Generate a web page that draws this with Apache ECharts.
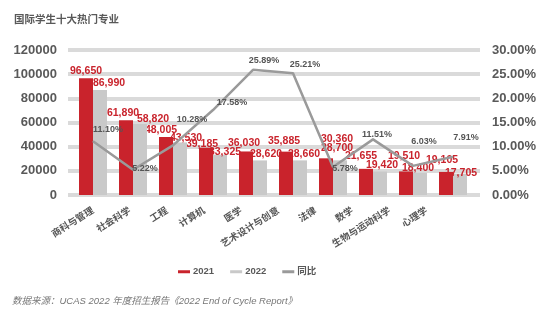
<!DOCTYPE html>
<html>
<head>
<meta charset="utf-8">
<script src="https://cdn.jsdelivr.net/npm/echarts@6/dist/echarts.min.js"></script>
<style>
  html, body { margin: 0; padding: 0; background: #fff; }
  #chart { width: 560px; height: 321px; }
</style>
</head>
<body>
<div id="chart"></div>
<script>
// Top ten majors chosen by international applicants, 2021 vs 2022, with year-on-year change
const categories = ['商科与管理', '社会科学', '工程', '计算机', '医学', '艺术设计与创意', '法律', '数学', '生物与运动科学', '心理学'];
const values2021 = [96650, 61890, 48005, 39185, 36030, 35885, 30360, 21655, 19510, 19105];
const values2022 = [86990, 58820, 43530, 33325, 28620, 28660, 28700, 19420, 18400, 17705];
const changeYoY = [0.1110, 0.0522, 0.1028, 0.1758, 0.2589, 0.2521, 0.0578, 0.1151, 0.0603, 0.0791];
const leftTicks = { min: 0, max: 120000, interval: 20000 };
const rightTicks = { min: 0, max: 0.30, interval: 0.05 };

// label nudges (pixels) so neighbouring labels do not collide
const offs2021 = [[0,3],[-3,3],[-5,3],[-4,7],[-2,2],[-2,0],[11,-9],[-5,-2],[-2,-5],[-4,-2]];
const offs2022 = [[9,3],[13,5],[6,6],[5,8],[6,4],[4,4],[-3,-2],[2,4],[-2,6],[1,10]];
const offsYoY = [[15,-12],[12,-1],[19,-26],[19,-8],[11,-9],[12,-9],[12,1],[4,-5],[11,-24],[13,-19]];

const RED = '#c9232c';
const GRAY = '#c9c9c9';
const LINE = '#9a9a9a';
const TEXT = '#595959';
const FONT = '"Liberation Sans", Arial, "Noto Sans CJK SC", sans-serif';

const fmt = v => v.toLocaleString('en-US');

const chart = echarts.init(document.getElementById('chart'), null, { renderer: 'canvas' });

const plotTop = 50, plotBottom = 126;

chart.setOption({
  animation: false,
  textStyle: { fontFamily: FONT },
  title: {
    text: '国际学生十大热门专业',
    left: 9, top: 10,
    textStyle: { fontSize: 10.5, fontWeight: 'bold', color: TEXT, fontFamily: FONT }
  },
  legend: {
    data: ['2021', '2022', '同比'],
    left: 173, top: 262,
    icon: 'rect',
    itemWidth: 12, itemHeight: 3, itemGap: 16,
    textStyle: { fontSize: 9.5, color: TEXT, fontWeight: 'bold', padding: [0, 0, 0, -2] }
  },
  graphic: [{
    type: 'text',
    left: 12, top: 297,
    style: {
      text: '数据来源：UCAS 2022 年度招生报告《2022 End of Cycle Report》',
      font: 'italic 9.5px ' + FONT,
      fill: '#777'
    }
  }],
  grid: [
    // 0: bars and line
    { left: 73, right: 87, top: plotTop, bottom: plotBottom },
    // 1: horizontal rules and value labels
    { left: 68, right: 80, top: plotTop, bottom: plotBottom },
    // 2: category labels
    { left: 74.5, right: 114.5, top: plotTop, bottom: plotBottom }
  ],
  xAxis: [
    { type: 'category', gridIndex: 0, data: categories, show: false },
    { type: 'value', gridIndex: 1, show: false, min: 0, max: 1 },
    {
      type: 'category', gridIndex: 2, data: categories,
      axisLine: { show: false }, axisTick: { show: false },
      axisLabel: {
        rotate: 32, margin: 15, interval: 0,
        fontSize: 9.5, fontWeight: 'bold', color: '#555', fontFamily: FONT
      }
    }
  ],
  yAxis: [
    { type: 'value', gridIndex: 0, show: false, ...leftTicks },
    { type: 'value', gridIndex: 0, show: false, ...rightTicks },
    {
      type: 'value', gridIndex: 1, position: 'left', ...leftTicks,
      axisLine: { show: false }, axisTick: { show: false },
      splitLine: { show: true, lineStyle: { color: '#dadada', width: 4 } },
      axisLabel: {
        margin: 11, fontSize: 13, fontWeight: 'bold', color: TEXT, fontFamily: FONT,
        formatter: v => String(v)
      }
    },
    {
      type: 'value', gridIndex: 1, position: 'right', ...rightTicks,
      axisLine: { show: false }, axisTick: { show: false }, splitLine: { show: false },
      axisLabel: {
        margin: 12, fontSize: 13, fontWeight: 'bold', color: TEXT, fontFamily: FONT,
        formatter: v => (v * 100).toFixed(2) + '%'
      }
    },
    { type: 'value', gridIndex: 2, show: false }
  ],
  series: [
    {
      name: '2021', type: 'bar', xAxisIndex: 0, yAxisIndex: 0,
      barWidth: 14, barGap: '0%',
      itemStyle: { color: RED },
      data: values2021.map((v, i) => ({ value: v, label: { offset: offs2021[i] } })),
      label: {
        show: true, position: 'top', distance: 5,
        fontSize: 10.5, fontWeight: 'bold', color: RED, fontFamily: FONT,
        formatter: p => fmt(p.value)
      }
    },
    {
      name: '2022', type: 'bar', xAxisIndex: 0, yAxisIndex: 0,
      barWidth: 14, barGap: '0%',
      itemStyle: { color: GRAY },
      data: values2022.map((v, i) => ({ value: v, label: { offset: offs2022[i] } })),
      label: {
        show: true, position: 'top', distance: 5,
        fontSize: 10.5, fontWeight: 'bold', color: RED, fontFamily: FONT,
        formatter: p => fmt(p.value)
      },
      z: 3
    },
    {
      name: '同比', type: 'line', xAxisIndex: 0, yAxisIndex: 1,
      symbol: 'circle', symbolSize: 1, showSymbol: true,
      itemStyle: { color: LINE },
      lineStyle: { color: LINE, width: 2.5 },
      data: changeYoY.map((v, i) => ({ value: v, label: { offset: offsYoY[i] } })),
      label: {
        show: true, position: 'inside',
        fontSize: 9, fontWeight: 'bold', color: '#555', fontFamily: FONT,
        formatter: p => (p.value * 100).toFixed(2) + '%'
      },
      z: 5
    }
  ]
});
</script>
</body>
</html>
